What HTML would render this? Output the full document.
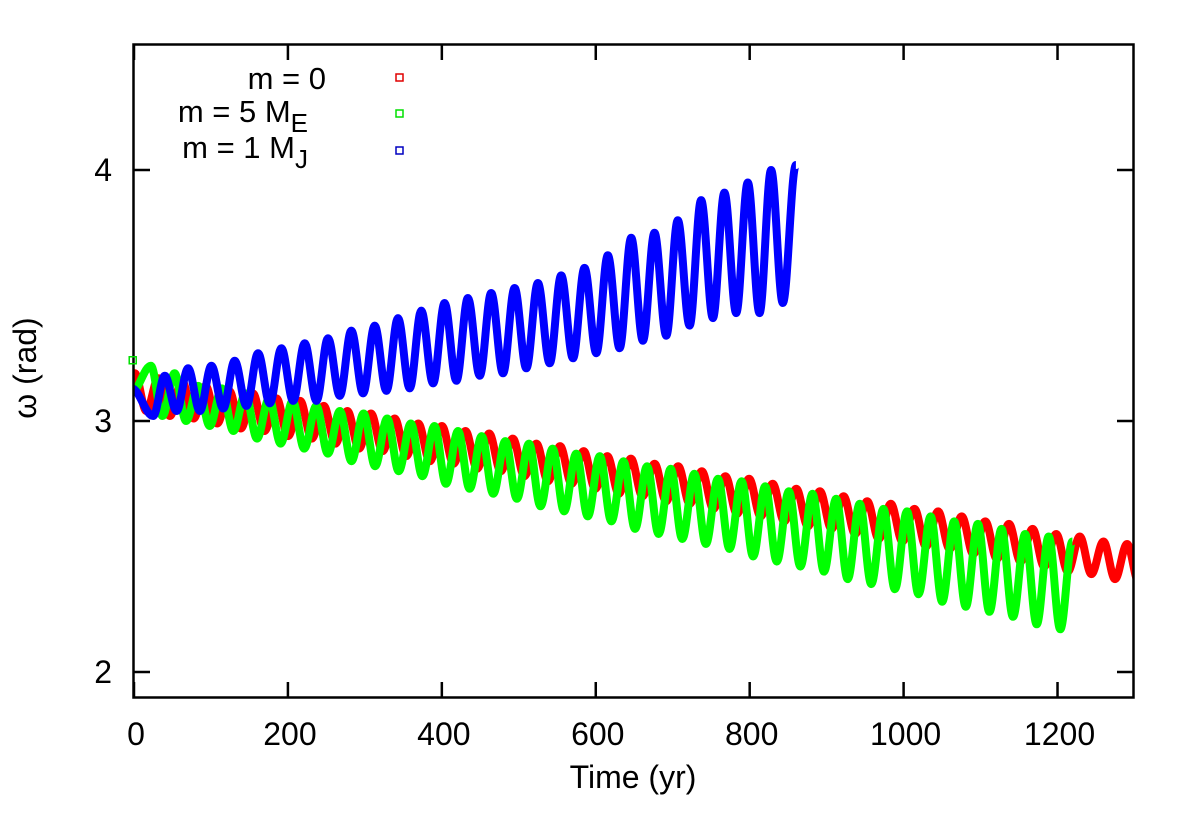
<!DOCTYPE html>
<html><head><meta charset="utf-8"><style>
body{margin:0;background:#fff;}
svg{display:block;}
text{font-family:"Liberation Sans",Arial,sans-serif;fill:#000;}
</style></head><body>
<svg id="chart" width="1200" height="813" viewBox="0 0 1200 813">
<defs><clipPath id="plotclip"><rect x="134" y="45" width="999" height="652"/></clipPath></defs>
<g id="series" clip-path="url(#plotclip)"></g>
<rect x="133.5" y="44.5" width="1000" height="653" fill="none" stroke="#000" stroke-width="2.5"/>
<g id="axes"></g>
<text x="36" y="368" font-size="32" text-anchor="middle" transform="rotate(-90 36 368)">ω (rad)</text>
<text x="633" y="788" font-size="32" text-anchor="middle">Time (yr)</text>
<g>
<text x="326" y="89" font-size="31" text-anchor="end">m = 0</text>
<text x="308" y="122" font-size="31" text-anchor="end">m = 5 M<tspan font-size="26" dy="10">E</tspan></text>
<text x="308" y="158" font-size="31" text-anchor="end">m = 1 M<tspan font-size="26" dy="10">J</tspan></text>
<rect x="396" y="74" width="7" height="7" fill="none" stroke="#e00000" stroke-width="1.5"/>
<rect x="396" y="110" width="7" height="7" fill="none" stroke="#00e000" stroke-width="1.5"/>
<rect x="396" y="147" width="7" height="7" fill="none" stroke="#0000c0" stroke-width="1.5"/>
</g>
</svg>
<script>
const xTicks = [0, 200, 400, 600, 800, 1000, 1200];
const yTicks = [2, 3, 4];
// red: m = 0
const redPeaks = [3.19,3.17,3.16,3.14,3.12,3.11,3.09,3.08,3.06,3.04,3.03,3.01,2.99,2.98,2.96,2.95,2.93,2.91,2.90,2.88,2.86,2.85,2.83,2.82,2.80,2.78,2.77,2.75,2.73,2.72,2.70,2.68,2.67,2.65,2.64,2.62,2.60,2.59,2.57,2.55,2.54,2.52,2.51];
const redTroughs = [3.04,3.02,3.01,2.99,2.97,2.96,2.94,2.93,2.91,2.89,2.88,2.86,2.84,2.83,2.81,2.80,2.78,2.76,2.75,2.73,2.71,2.70,2.68,2.67,2.65,2.63,2.62,2.60,2.58,2.57,2.55,2.53,2.52,2.50,2.49,2.47,2.45,2.44,2.42,2.40,2.39,2.37,2.36];
// green: m = 5 ME
const greenPeaks = [3.22,3.19,3.14,3.13,3.11,3.09,3.08,3.06,3.04,3.03,3.01,2.99,2.98,2.96,2.94,2.92,2.91,2.89,2.87,2.86,2.84,2.82,2.81,2.79,2.77,2.76,2.74,2.72,2.71,2.69,2.67,2.65,2.64,2.62,2.60,2.59,2.57,2.55,2.54,2.52];
const greenTroughs = [3.02,3.00,2.98,2.96,2.93,2.91,2.89,2.87,2.84,2.82,2.80,2.78,2.75,2.73,2.71,2.69,2.66,2.64,2.62,2.60,2.57,2.55,2.53,2.51,2.49,2.46,2.44,2.42,2.40,2.37,2.35,2.33,2.31,2.28,2.26,2.24,2.22,2.19,2.17];
// blue: m = 1 MJ
const blueTroughs = [3.02,3.04,3.04,3.05,3.06,3.07,3.08,3.08,3.10,3.11,3.12,3.13,3.15,3.16,3.18,3.19,3.21,3.23,3.25,3.27,3.29,3.32,3.34,3.38,3.41,3.43,3.43,3.47];
const bluePeaks = [3.18,3.21,3.22,3.24,3.27,3.29,3.31,3.33,3.36,3.38,3.41,3.44,3.47,3.49,3.51,3.53,3.55,3.58,3.61,3.66,3.73,3.75,3.80,3.88,3.91,3.95,4.00];
const series = [
  {name:'series-m0', color:'#ff0000', start:[-3,3.12], firstPeak:1, firstTrough:16, period:30.7, peaks:redPeaks, troughs:redTroughs, end:null},
  {name:'series-m5-earth', color:'#00ff00', start:[-2,3.12], firstPeak:22, firstTrough:37, period:30.7, peaks:greenPeaks, troughs:greenTroughs, end:null},
  {name:'series-m1-jupiter', color:'#0000ff', start:[-3,3.13], firstPeak:40, firstTrough:25, period:30.3, peaks:bluePeaks, troughs:blueTroughs, end:[860,4.02]}
];
const X0 = 134, XS = 0.7696;
const Y0 = 421, YS = 251;
function sx(t){ return X0 + t*XS; }
function sy(v){ return Y0 - (v-3)*YS; }
const NS = 'http://www.w3.org/2000/svg';
const axes = document.getElementById('axes');
xTicks.forEach(function(t){
  const x = sx(t);
  const p = document.createElementNS(NS,'path');
  p.setAttribute('d','M'+x+' 697V682M'+x+' 45V60');
  p.setAttribute('stroke','#000'); p.setAttribute('stroke-width','2.5');
  
  
  axes.appendChild(p);
  const tx = document.createElementNS(NS,'text');
  tx.setAttribute('x', x+2); tx.setAttribute('y', 745);
  tx.setAttribute('font-size','32'); tx.setAttribute('text-anchor','middle');
  tx.textContent = t;
  
  
  axes.appendChild(tx);
});
yTicks.forEach(function(v){
  const y = sy(v);
  const p = document.createElementNS(NS,'path');
  p.setAttribute('d','M134 '+y+'H150M1133 '+y+'H1117');
  p.setAttribute('stroke','#000'); p.setAttribute('stroke-width','2.5');
  
  
  axes.appendChild(p);
  const tx = document.createElementNS(NS,'text');
  tx.setAttribute('x', 112); tx.setAttribute('y', y+11);
  tx.setAttribute('font-size','32'); tx.setAttribute('text-anchor','end');
  tx.textContent = v;
  
  
  axes.appendChild(tx);
});
const layer = document.getElementById('series');
series.forEach(function(s){
  const pts = [];
  s.peaks.forEach(function(v,k){ pts.push([s.firstPeak + k*s.period, v]); });
  s.troughs.forEach(function(v,k){ pts.push([s.firstTrough + k*s.period, v]); });
  pts.sort(function(a,b){ return a[0]-b[0]; });
  pts.unshift(s.start);
  if (s.end) pts.push(s.end);
  let d = 'M'+sx(pts[0][0]).toFixed(1)+' '+sy(pts[0][1]).toFixed(1);
  for (let i=1;i<pts.length;i++){
    const x0 = sx(pts[i-1][0]), y0 = sy(pts[i-1][1]);
    const x1 = sx(pts[i][0]), y1 = sy(pts[i][1]);
    const dx = (x1-x0)*0.36;
    d += 'C'+(x0+dx).toFixed(1)+' '+y0.toFixed(1)+' '+(x1-dx).toFixed(1)+' '+y1.toFixed(1)+' '+x1.toFixed(1)+' '+y1.toFixed(1);
  }
  const p = document.createElementNS(NS,'path');
  p.setAttribute('d', d);
  p.setAttribute('fill','none');
  p.setAttribute('stroke', s.color);
  p.setAttribute('stroke-width','8');
  p.setAttribute('stroke-linejoin','round');
  
  
  layer.appendChild(p);
});
const m = document.createElementNS(NS,'rect');
m.setAttribute('x', sx(-1)-4); m.setAttribute('y', sy(3.24)-4);
m.setAttribute('width', 7); m.setAttribute('height', 7);
m.setAttribute('fill','none'); m.setAttribute('stroke','#00e000'); m.setAttribute('stroke-width','1.5');


document.getElementById('chart').appendChild(m);
</script>
</body></html>
